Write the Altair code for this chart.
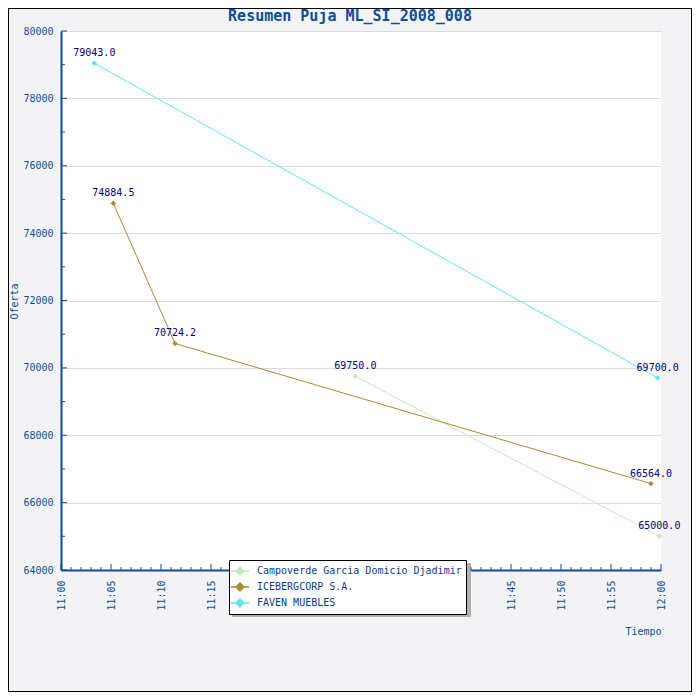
import altair as alt
import pandas as pd

title_text = "Resumen Puja ML_SI_2008_008"
series = ["Campoverde Garcia Domicio Djadimir", "ICEBERGCORP S.A.", "FAVEN MUEBLES"]
colors = ["#c6e6bf", "#b0882f", "#62e2f4"]

campoverde_times = ["11:29:26", "11:59:50"]
campoverde_values = [69750.0, 65000.0]
iceberg_times = ["11:05:14", "11:11:24", "11:59:00"]
iceberg_values = [74884.5, 70724.2, 66564.0]
faven_times = ["11:03:20", "11:59:40"]
faven_values = [79043.0, 69700.0]

x_tick_minutes = list(range(0, 61))
y_tick_values = list(range(64000, 80001, 1000))

DAY = "2008-01-01T"
AXIS_BLUE = "#0b4f96"
FONT = "DejaVu Sans Mono"

rows = []
for name, times, vals in [
    (series[0], campoverde_times, campoverde_values),
    (series[1], iceberg_times, iceberg_values),
    (series[2], faven_times, faven_values),
]:
    for t, v in zip(times, vals):
        rows.append({"serie": name, "hora": DAY + t, "oferta": v, "label": f"{v:.1f}"})
df = pd.DataFrame(rows)


def hm(m):
    h = 11 + m // 60
    return f"{DAY}{h:02d}:{m % 60:02d}:00"


xt = pd.DataFrame({"hora": [hm(m) for m in x_tick_minutes],
                   "major": [m % 5 == 0 for m in x_tick_minutes]})
yt = pd.DataFrame({"oferta": y_tick_values,
                   "major": [v % 2000 == 0 for v in y_tick_values]})

W, H = 600, 539

x_enc = alt.X(
    "hora:T",
    scale=alt.Scale(domain=[DAY + "11:00:00", DAY + "12:00:00"]),
    axis=alt.Axis(
        title="Tiempo", format="%H:%M",
        values=[hm(m) for m in range(0, 61, 5)],
        labelAngle=270, labelAlign="right", labelBaseline="middle",
        labelPadding=10, ticks=False, grid=False,
        domainColor=AXIS_BLUE, domainWidth=2,
        labelColor=AXIS_BLUE, labelFont=FONT, labelFontSize=10,
        titleColor=AXIS_BLUE, titleFont=FONT, titleFontSize=10, titleFontWeight="normal",
        titleX=W, titleY=61, titleAlign="right", titleBaseline="middle",
    ),
)
y_enc = alt.Y(
    "oferta:Q",
    scale=alt.Scale(domain=[64000, 80000], nice=False, zero=False),
    axis=alt.Axis(
        title="Oferta", values=list(range(64000, 80001, 2000)), format="d",
        ticks=False, grid=True, gridColor="#dcdcdc", gridWidth=1,
        domainColor=AXIS_BLUE, domainWidth=2, labelPadding=8,
        labelColor=AXIS_BLUE, labelFont=FONT, labelFontSize=10,
        titleColor=AXIS_BLUE, titleFont=FONT, titleFontSize=10, titleFontWeight="normal",
        titleX=-47, titleY=270, titleAngle=270, titleAlign="center", titleBaseline="middle",
    ),
)

SYMBOL = "M-1.5,0L1.5,0M0,-0.65L0.65,0L0,0.65L-0.65,0Z"
legend = alt.Legend(
    title=None, orient="none", legendX=168, legendY=529,
    fillColor="white", strokeColor="black",
    padding=4, rowPadding=2, symbolType=SYMBOL, symbolSize=144,
    symbolStrokeWidth=1.5, labelFont=FONT, labelFontSize=10,
    labelColor="#0a3c8c", labelLimit=400, labelOffset=10,
)
sc = alt.Scale(domain=series, range=colors)

base = alt.Chart(df)
lines = base.mark_line(strokeWidth=1).encode(
    x=x_enc, y=y_enc, color=alt.Color("serie:N", scale=sc, sort=series, legend=legend))
points = base.mark_point(shape="diamond", filled=True, size=30, opacity=1).encode(
    x="hora:T", y="oferta:Q",
    color=alt.Color("serie:N", scale=sc, sort=series, legend=None),
)
labels = base.mark_text(dy=-10, font=FONT, fontSize=10, color="#000080").encode(
    x="hora:T", y="oferta:Q", text="label:N")

xt_major = alt.Chart(xt[xt["major"]]).mark_rule(color=AXIS_BLUE, strokeWidth=1).encode(
    x="hora:T", y=alt.value(H), y2=alt.value(H - 6))
xt_minor = alt.Chart(xt[~xt["major"]]).mark_rule(color=AXIS_BLUE, strokeWidth=1).encode(
    x="hora:T", y=alt.value(H), y2=alt.value(H - 3))
yt_major = alt.Chart(yt[yt["major"]]).mark_rule(color=AXIS_BLUE, strokeWidth=1).encode(
    y="oferta:Q", x=alt.value(0), x2=alt.value(6))
yt_minor = alt.Chart(yt[~yt["major"]]).mark_rule(color=AXIS_BLUE, strokeWidth=1).encode(
    y="oferta:Q", x=alt.value(0), x2=alt.value(4))

one = pd.DataFrame({"t": [title_text]})
frame = alt.Chart(one).mark_rect(
    fill="transparent", stroke="black", strokeWidth=2).encode(
    x=alt.value(-53), x2=alt.value(631), y=alt.value(-23), y2=alt.value(661))
shadow = alt.Chart(one).mark_rect(fill="#b0b0b0").encode(
    x=alt.value(171), x2=alt.value(171 + 239), y=alt.value(532), y2=alt.value(532 + 54))
title = alt.Chart(one).mark_text(
    font=FONT, fontSize=15, fontWeight="bold", color=AXIS_BLUE,
    align="center", baseline="middle").encode(
    text="t:N", x=alt.value(289), y=alt.value(-15))

chart = alt.layer(
    shadow, lines, points, labels, xt_major, xt_minor, yt_major, yt_minor, frame, title
).properties(
    width=W, height=H,
    autosize=alt.AutoSizeParams(type="none"),
    padding={"left": 53, "top": 23, "right": 31, "bottom": 122},
    background="#f3f3f5",
).configure_view(fill="white", strokeWidth=0)

chart.save("out.html", embed_options={"renderer": "svg", "actions": False})
